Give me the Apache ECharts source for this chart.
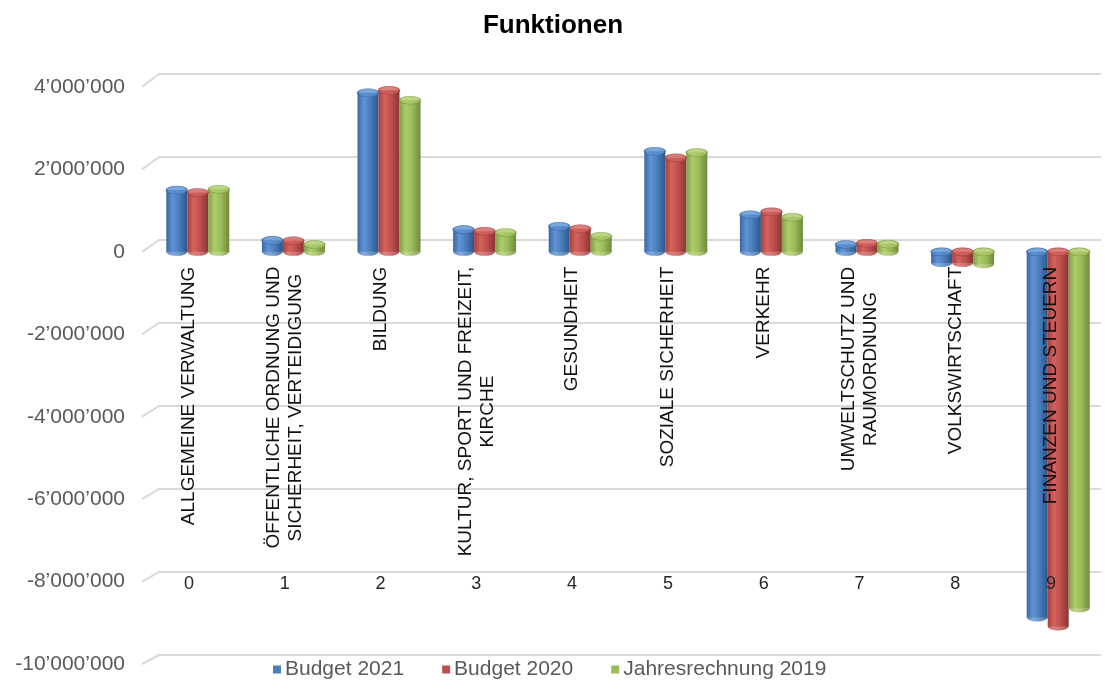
<!DOCTYPE html>
<html>
<head>
<meta charset="utf-8">
<script src="https://cdn.jsdelivr.net/npm/echarts@6/dist/echarts.min.js"></script>
<style>html,body{margin:0;padding:0;background:#fff;}#c{width:1106px;height:682px;}</style>
</head>
<body>
<div id="c"></div>
<script>
// ---- data ----
const categoryNames = [
  'ALLGEMEINE VERWALTUNG',
  'ÖFFENTLICHE ORDNUNG UND\nSICHERHEIT, VERTEIDIGUNG',
  'BILDUNG',
  'KULTUR, SPORT UND FREIZEIT,\nKIRCHE',
  'GESUNDHEIT',
  'SOZIALE SICHERHEIT',
  'VERKEHR',
  'UMWELTSCHUTZ UND\nRAUMORDNUNG',
  'VOLKSWIRTSCHAFT',
  'FINANZEN UND STEUERN'
];
const categoryIndex = ['0','1','2','3','4','5','6','7','8','9'];
const seriesNames = ['Budget 2021', 'Budget 2020', 'Jahresrechnung 2019'];
const budget2021 = [1500000, 280000, 3860000, 540000, 620000, 2440000, 900000, 180000, -270000, -8870000];
const budget2020 = [1440000, 270000, 3920000, 500000, 560000, 2280000, 970000, 210000, -270000, -9090000];
const jahresrechnung2019 = [1520000, 180000, 3680000, 470000, 380000, 2410000, 840000, 190000, -300000, -8650000];
const yMin = -10000000, yMax = 4000000, yStep = 2000000;

// ---- styling ----
const FONT = '"Liberation Sans", Arial, sans-serif';
const palettes = [
  {base:'#4a7ebb', grad:['#3a68a3','#5f93d6','#4a7ebb','#2c568b'], cap:'#5b8ecf', rim:'#3c6aa5'},
  {base:'#c0504d', grad:['#a5413e','#d4625f','#c0504d','#8a3533'], cap:'#cf5f5c', rim:'#a3413e'},
  {base:'#9bbb59', grad:['#829f47','#adcd6b','#9bbb59','#6f8a3c'], cap:'#a9c968', rim:'#7f9b45'}
];
const allSeries = [budget2021, budget2020, jahresrechnung2019];
const offsets = [-21, 0, 21];

function grad(p){
  return new echarts.graphic.LinearGradient(0,0,1,0,[
    {offset:0,color:p.grad[0]},{offset:0.3,color:p.grad[1]},
    {offset:0.6,color:p.grad[2]},{offset:1,color:p.grad[3]}]);
}
function fmt(v){
  const neg = v < 0; let s = String(Math.abs(Math.round(v)));
  s = s.replace(/\B(?=(\d{3})+(?!\d))/g, '\u2019');
  return (neg ? '-' : '') + s;
}

// measure widths for centred multi-line rotated labels
const cv = document.createElement('canvas').getContext('2d');
cv.font = '19px ' + FONT;
const rich = {};
categoryNames.forEach((n, i) => {
  const w = Math.max(...n.split('\n').map(l => cv.measureText(l).width));
  rich['c' + i] = {width: Math.ceil(w) + 1, align: 'center', fontSize: 19, fontFamily: FONT, color: '#111', lineHeight: 22};
});

const series = [];
allSeries.forEach((vals, k) => {
  const p = palettes[k];
  series.push({
    name: seriesNames[k], type: 'bar', xAxisIndex: 0, yAxisIndex: 0,
    data: vals, barWidth: 21, barGap: '0%', z: 3,
    itemStyle: {color: grad(p)}
  });
  // rounded bottom ends
  series.push({
    name: seriesNames[k], type: 'scatter', xAxisIndex: 0, yAxisIndex: 0, z: 2,
    data: vals.map((v, i) => [i, Math.min(v, 0)]),
    symbol: 'circle', symbolSize: [21, 8], symbolOffset: [offsets[k], 0],
    itemStyle: {color: grad(p)}, silent: true
  });
  // top caps
  series.push({
    name: seriesNames[k], type: 'scatter', xAxisIndex: 0, yAxisIndex: 0, z: 4,
    data: vals.map((v, i) => [i, Math.max(v, 0)]),
    symbol: 'circle', symbolSize: [21, 8], symbolOffset: [offsets[k], 0],
    itemStyle: {color: p.cap, borderColor: p.rim, borderWidth: 1}, silent: true
  });
});

const chart = echarts.init(document.getElementById('c'), null, {renderer: 'canvas'});
chart.setOption({
  animation: false,
  backgroundColor: '#fff',
  title: {text: 'Funktionen', left: 'center', top: 8,
    textStyle: {fontSize: 26, fontWeight: 'bold', color: '#000', fontFamily: FONT}},
  legend: {
    left: 268, top: 654, itemWidth: 8, itemHeight: 8, itemGap: 38, icon: 'rect',
    textStyle: {fontSize: 21, color: '#595959', fontFamily: FONT, padding: [0,0,0,-1]},
    data: seriesNames.map((n, k) => ({name: n, itemStyle: {color: palettes[k].base}}))
  },
  grid: [
    {left: 150, top: 87, width: 959, height: 577},   // front plane (bars)
    {left: 158, right: 5, top: 74, bottom: 27},      // back wall (gridlines)
    {left: 141, width: 958, top: 100, bottom: 432}   // category labels
  ],
  xAxis: [
    {type: 'category', gridIndex: 0, data: categoryIndex, show: false},
    {type: 'value', gridIndex: 1, show: false},
    {type: 'category', gridIndex: 2, data: categoryNames, position: 'bottom', z: 10,
      axisLine: {show: false}, axisTick: {show: false},
      axisLabel: {interval: 0, rotate: 90, margin: 16, fontSize: 19, fontFamily: FONT, color: '#111', lineHeight: 22,
        formatter: (v, i) => v.split('\n').map(l => '{c' + i + '|' + l + '}').join('\n'), rich: rich}},
    {type: 'category', gridIndex: 2, data: categoryIndex, position: 'bottom', offset: 322, z: 10,
      axisLine: {show: false}, axisTick: {show: false},
      axisLabel: {interval: 0, margin: 3, fontSize: 18, fontFamily: FONT, color: '#262626'}}
  ],
  yAxis: [
    {type: 'value', gridIndex: 0, min: yMin, max: yMax, interval: yStep,
      axisLine: {show: false}, axisTick: {show: false}, splitLine: {show: false},
      axisLabel: {margin: 25, fontSize: 21, fontFamily: FONT, color: '#595959', formatter: fmt}},
    {type: 'value', gridIndex: 1, min: yMin, max: yMax, interval: yStep,
      axisLine: {show: false}, axisTick: {show: false}, axisLabel: {show: false},
      splitLine: {show: true, lineStyle: {color: '#d9d9d9', width: 2}}},
    {type: 'value', gridIndex: 2, show: false}
  ],
  series: series
});

// perspective connectors between front labels and back wall gridlines
const ticks = [];
for (let v = yMin; v <= yMax; v += yStep) ticks.push(v);
chart.setOption({
  graphic: ticks.map(v => {
    const yf = chart.convertToPixel({yAxisIndex: 0}, v);
    const yb = chart.convertToPixel({yAxisIndex: 1}, v);
    return {type: 'line', silent: true, z: 0,
      shape: {x1: 142, y1: yf, x2: 159, y2: yb},
      style: {stroke: '#d9d9d9', lineWidth: 2}};
  })
});
</script>
</body>
</html>
